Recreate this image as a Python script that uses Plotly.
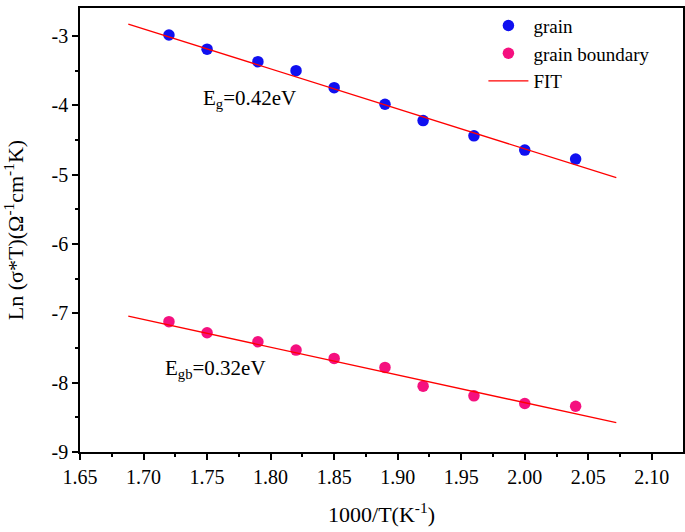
import plotly.graph_objects as go

x_vals = [1.72, 1.75, 1.79, 1.82, 1.85, 1.89, 1.92, 1.96, 2.00, 2.04]
grain = [-2.985, -3.19, -3.37, -3.50, -3.745, -3.985, -4.22, -4.44, -4.645, -4.775]
grain_boundary = [-7.12, -7.28, -7.41, -7.53, -7.65, -7.78, -8.05, -8.19, -8.30, -8.34]
fit_x = [1.688, 2.072]
fit_grain = [-2.827, -5.044]
fit_gb = [-7.04, -8.577]

x_ticks = [1.65, 1.70, 1.75, 1.80, 1.85, 1.90, 1.95, 2.00, 2.05, 2.10]
x_tick_labels = ["1.65", "1.70", "1.75", "1.80", "1.85", "1.90", "1.95", "2.00", "2.05", "2.10"]
y_ticks = [-9, -8, -7, -6, -5, -4, -3]
y_tick_labels = ["-9", "-8", "-7", "-6", "-5", "-4", "-3"]

FONT = "Liberation Serif"

fig = go.Figure()
fig.add_trace(go.Scatter(x=x_vals, y=grain, mode="markers", name="grain",
                         marker=dict(size=11.5, color="#1010f0", line=dict(width=0))))
fig.add_trace(go.Scatter(x=x_vals, y=grain_boundary, mode="markers", name="grain boundary",
                         marker=dict(size=11.5, color="#f5107f", line=dict(width=0))))
fig.add_trace(go.Scatter(x=fit_x, y=fit_grain, mode="lines", name="FIT",
                         line=dict(color="#ff0000", width=1.3)))
fig.add_trace(go.Scatter(x=fit_x, y=fit_gb, mode="lines", name="FIT", showlegend=False,
                         line=dict(color="#ff0000", width=1.3)))

fig.add_annotation(x=1.783, y=-3.91, text="E<sub>g</sub>=0.42eV", showarrow=False,
                   font=dict(size=21, color="black", family=FONT))
fig.add_annotation(x=1.757, y=-7.80, text="E<sub>gb</sub>=0.32eV", showarrow=False,
                   font=dict(size=21, color="black", family=FONT))

axis_common = dict(showline=True, linecolor="black", linewidth=1.5, mirror=True,
                   ticks="outside", ticklen=6, tickwidth=1.5, tickcolor="black",
                   showgrid=False, zeroline=False, automargin=False,
                   tickfont=dict(size=20, color="black", family=FONT))

fig.update_xaxes(range=[1.65, 2.1245], tickvals=x_ticks, ticktext=x_tick_labels,
                 title=dict(text="1000/T(K<sup>-1</sup>)", font=dict(size=22, color="black", family=FONT),
                            standoff=20),
                 minor=dict(ticks="outside", ticklen=3, tickwidth=1.5, tickcolor="black",
                            tick0=1.65, dtick=0.025),
                 **axis_common)
fig.update_yaxes(range=[-9, -2.596], tickvals=y_ticks, ticktext=y_tick_labels,
                 title=dict(text="Ln (σ*T)(Ω<sup>-1</sup>cm<sup>-1</sup>K)",
                            font=dict(size=22, color="black", family=FONT), standoff=22),
                 minor=dict(ticks="outside", ticklen=3, tickwidth=1.5, tickcolor="black",
                            tick0=-9, dtick=0.5),
                 **axis_common)

fig.update_layout(
    width=685, height=532,
    margin=dict(l=80, r=2, t=8, b=80),
    plot_bgcolor="white", paper_bgcolor="white",
    font=dict(family=FONT, color="black"),
    legend=dict(x=0.669, y=1.003, xanchor="left", yanchor="top",
                bgcolor="rgba(0,0,0,0)", borderwidth=0,
                font=dict(size=19, color="black", family=FONT),
                tracegroupgap=0, itemwidth=40),
)

fig.write_html("out.html", config={"displayModeBar": False},
               post_script="document.body.style.margin='0';")
